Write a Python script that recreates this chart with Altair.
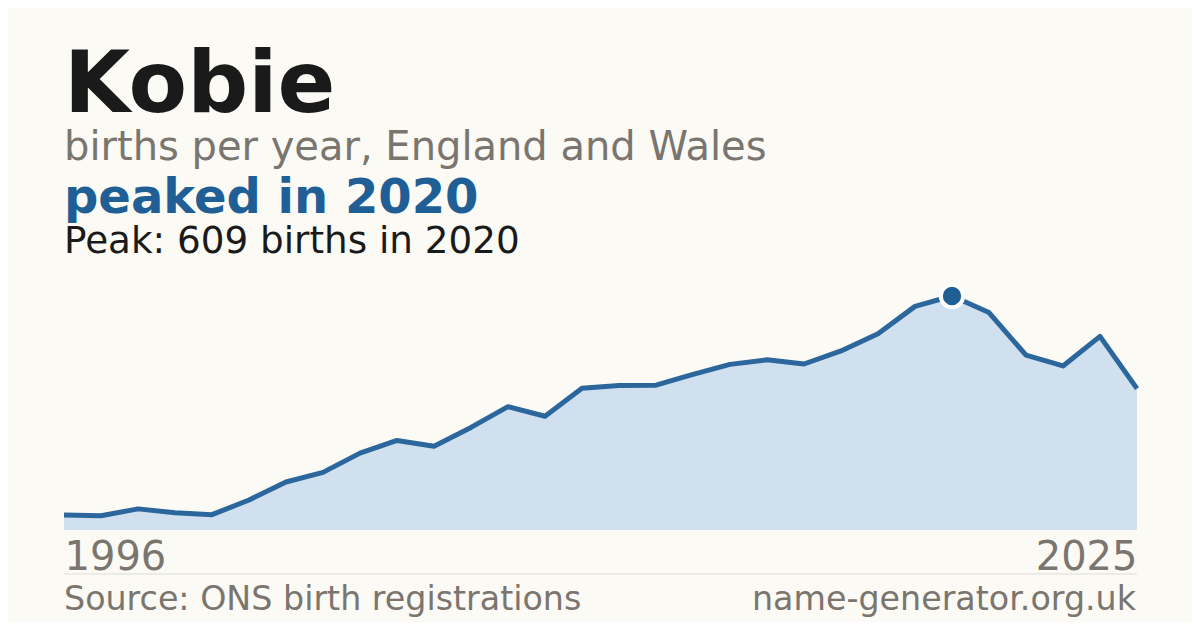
import altair as alt
import pandas as pd

years = list(range(1996, 2026))
births = [39, 37, 55, 45, 40, 78, 125, 150, 200, 233,
          218, 267, 321, 296, 369, 376, 377, 405, 431, 443,
          432, 466, 511, 582, 609, 566, 455, 427, 504, 368]

name = "Kobie"
subtitle = "births per year, England and Wales"
headline = "peaked in 2020"
peak_text = "Peak: 609 births in 2020"
source_text = "Source: ONS birth registrations"
site_text = "name-generator.org.uk"

BG = "#fbfaf5"
BLUE = "#1f5f96"
GRAY = "#7a756e"
DARK = "#1a1a1a"
FONT = "DejaVu Sans"

W, H = 1073, 234

df = pd.DataFrame({"year": years, "births": births})
peak_idx = births.index(max(births))
peak_df = df.iloc[[peak_idx]]

xs = alt.X("year:Q", scale=alt.Scale(domain=[years[0], years[-1]], nice=False, zero=False),
           axis=alt.Axis(values=[years[0], years[-1]], format="d", labelFlush=True,
                         ticks=False, tickSize=0, domain=False, grid=False, title=None,
                         labelFontSize=40, labelColor=GRAY, labelFont=FONT,
                         labelBaseline="alphabetic", labelPadding=39))
ys = alt.Y("births:Q", scale=alt.Scale(domain=[0, max(births)], nice=False, zero=True),
           axis=None)

base = alt.Chart(df)
area = base.mark_area(color="#d0e0ef", opacity=1).encode(x=xs, y=ys)
line = base.mark_line(color="#2b679c", strokeWidth=5, strokeJoin="round").encode(x=xs, y=ys)
dot = alt.Chart(peak_df).mark_point(shape="circle", filled=True, size=500, fill=BLUE,
                                    stroke="white", strokeWidth=4, opacity=1).encode(
    x=alt.X("year:Q"), y=alt.Y("births:Q"))


def txt(s, y, size, color, weight="normal", align="left", x=0):
    return alt.Chart(pd.DataFrame({"t": [s]})).mark_text(
        align=align, baseline="alphabetic", fontSize=size, font=FONT,
        fontWeight=weight, color=color).encode(
        text="t:N", x=alt.value(x), y=alt.value(y))


rule = alt.Chart(pd.DataFrame({"a": [0]})).mark_rule(color="#dddbd4", strokeWidth=1).encode(
    x=alt.value(0), x2=alt.value(W), y=alt.value(278))

chart = alt.layer(
    area, line, dot,
    txt(name, -184, 85.3, DARK, "bold"),
    txt(subtitle, -136, 40, GRAY),
    txt(headline, -83, 48, BLUE, "bold"),
    txt(peak_text, -43, 37.3, DARK),
    rule,
    txt(source_text, 314, 33.3, GRAY),
    txt(site_text, 314, 33.3, GRAY, align="right", x=W - 1),
).properties(
    width=W, height=H,
    background=BG,
    padding={"left": 56, "top": 288, "right": 55, "bottom": 92},
    autosize=alt.AutoSizeParams(type="none"),
).configure_view(strokeWidth=0)

chart.save("out.html", embed_options={"renderer": "svg", "actions": False})
